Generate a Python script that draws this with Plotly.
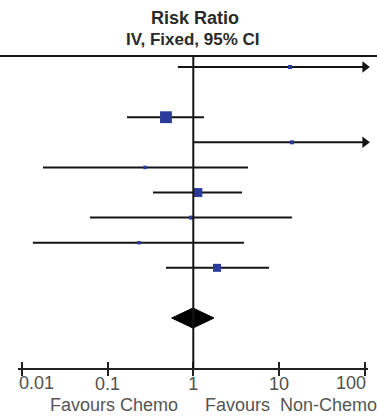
import math
import plotly.graph_objects as go

# ---- data ----
rows = [1, 3, 4, 5, 6, 7, 8, 9]            # row positions of studies (row 2 is an empty study)
rr = [13.4, 0.48, 14.1, 0.274, 1.13, 0.94, 0.233, 1.89]
ci_low = [0.66, 0.169, 1.0, 0.0177, 0.339, 0.0625, 0.0135, 0.48]
ci_high = [250.0, 1.33, 300.0, 4.34, 3.70, 14.1, 3.90, 7.63]
weights = [4, 35, 4, 3, 20, 4, 3, 16]       # % weight (controls square size)
pooled_row = 11
pooled = [0.56, 0.99, 1.74]                 # low, estimate, high
tick_vals = [0.01, 0.1, 1, 10, 100]
tick_labels = ["0.01", "0.1", "1", "10", "100"]
display_max = 100

W, H = 377, 417
L, R, T, B = 18, 9, 56, 49
PW, PH = W - L - R, H - T - B
LBL_Y = -(383 - 368) / PH
FAV_Y = -(405 - 368) / PH

fig = go.Figure()

# CI lines
for r, lo, hi in zip(rows, ci_low, ci_high):
    fig.add_trace(go.Scatter(x=[lo, min(hi, display_max)], y=[r, r], mode="lines",
                             line=dict(color="#141414", width=2), hoverinfo="skip",
                             showlegend=False))

# arrows for CIs beyond the axis
arr_rows = [r for r, hi in zip(rows, ci_high) if hi > display_max]
fig.add_trace(go.Scatter(x=[display_max] * len(arr_rows), y=arr_rows, mode="markers",
                         marker=dict(symbol="triangle-right", size=10, color="#141414",
                                     opacity=1, line=dict(width=0)),
                         cliponaxis=False, showlegend=False, hoverinfo="skip"))

# study squares
fig.add_trace(go.Scatter(x=rr, y=rows, mode="markers",
                         marker=dict(symbol="square", color="#2b3b9c", opacity=1,
                                     size=[2 * math.sqrt(w) for w in weights],
                                     line=dict(width=0)),
                         showlegend=False))

# pooled diamond
fig.add_trace(go.Scatter(x=[pooled[0], pooled[1], pooled[2], pooled[1], pooled[0]],
                         y=[pooled_row, pooled_row - 0.4, pooled_row, pooled_row + 0.4, pooled_row],
                         mode="lines", fill="toself", fillcolor="#000000",
                         line=dict(color="#000000", width=1), showlegend=False))

# x-axis tick marks above the line (second overlaying axis)
fig.add_trace(go.Scatter(x=[1], y=[pooled_row], xaxis="x2", mode="markers",
                         marker=dict(opacity=0), showlegend=False, hoverinfo="skip"))

# line of no effect and top rule
fig.add_shape(type="line", xref="x", yref="paper", x0=1, x1=1, y0=0, y1=1,
              line=dict(color="#141414", width=2))
fig.add_shape(type="line", xref="paper", yref="paper", x0=-L / PW, x1=1 + R / PW,
              y0=1, y1=1, line=dict(color="#141414", width=2))

# tick labels: inner ones on the axis, the two end ones kept inside the chart
inner_text = [t if 0 < i < len(tick_labels) - 1 else "" for i, t in enumerate(tick_labels)]
annots = [
    dict(text=tick_labels[0], xref="x", yref="paper", x=math.log10(tick_vals[0]), y=LBL_Y,
         xanchor="left", yanchor="middle", xshift=-4.5, showarrow=False,
         font=dict(size=18, color="#505050")),
    dict(text=tick_labels[-1], xref="x", yref="paper", x=math.log10(tick_vals[-1]), y=LBL_Y,
         xanchor="right", yanchor="middle", xshift=3, showarrow=False,
         font=dict(size=18, color="#505050")),
    dict(text="<b>Risk Ratio</b>", xref="paper", yref="paper",
         x=(194.5 - L) / PW, y=1 + (56 - 18.5) / PH,
         xanchor="center", yanchor="middle", showarrow=False,
         font=dict(size=18, color="#2a2a2a")),
    dict(text="<b>IV, Fixed, 95% CI</b>", xref="paper", yref="paper",
         x=(193 - L) / PW, y=1 + (56 - 40) / PH,
         xanchor="center", yanchor="middle", showarrow=False,
         font=dict(size=17, color="#2a2a2a")),
    dict(text="Favours Chemo", xref="paper", yref="paper",
         x=(114.5 - L) / PW, y=FAV_Y,
         xanchor="center", yanchor="middle", showarrow=False,
         font=dict(size=18, color="#555555")),
    dict(text="Favours\u00a0\u00a0Non-Chemo", xref="paper", yref="paper",
         x=(203 - L) / PW, y=FAV_Y,
         xanchor="left", yanchor="middle", showarrow=False,
         font=dict(size=18, color="#555555")),
]

xr = [math.log10(0.01) - 3.7 / 85.8, math.log10(100) + 3.1 / 85.8]
fig.update_layout(
    width=W, height=H,
    margin=dict(l=L, r=R, t=T, b=B),
    plot_bgcolor="white", paper_bgcolor="white",
    font=dict(family="Liberation Sans, Arial, sans-serif", color="#555555"),
    xaxis=dict(type="log", range=xr, tickvals=tick_vals, ticktext=inner_text,
               showgrid=False, zeroline=False, showline=True, linecolor="#222222",
               linewidth=2, ticks="outside", ticklen=6, tickwidth=2, tickcolor="#222222",
               tickfont=dict(size=18, color="#505050"), automargin=False,
               ticklabeloverflow="allow", ticklabelstandoff=-8),
    xaxis2=dict(type="log", range=xr, overlaying="x", anchor="y", side="bottom",
                tickvals=tick_vals, showticklabels=False, showgrid=False, zeroline=False,
                ticks="inside", ticklen=6, tickwidth=2, tickcolor="#222222"),
    yaxis=dict(range=[12.99, 0.562], visible=False, showgrid=False, zeroline=False),
    annotations=annots,
)

fig.write_html("out.html", config={"displayModeBar": False},
               post_script="document.body.style.margin='0';")
